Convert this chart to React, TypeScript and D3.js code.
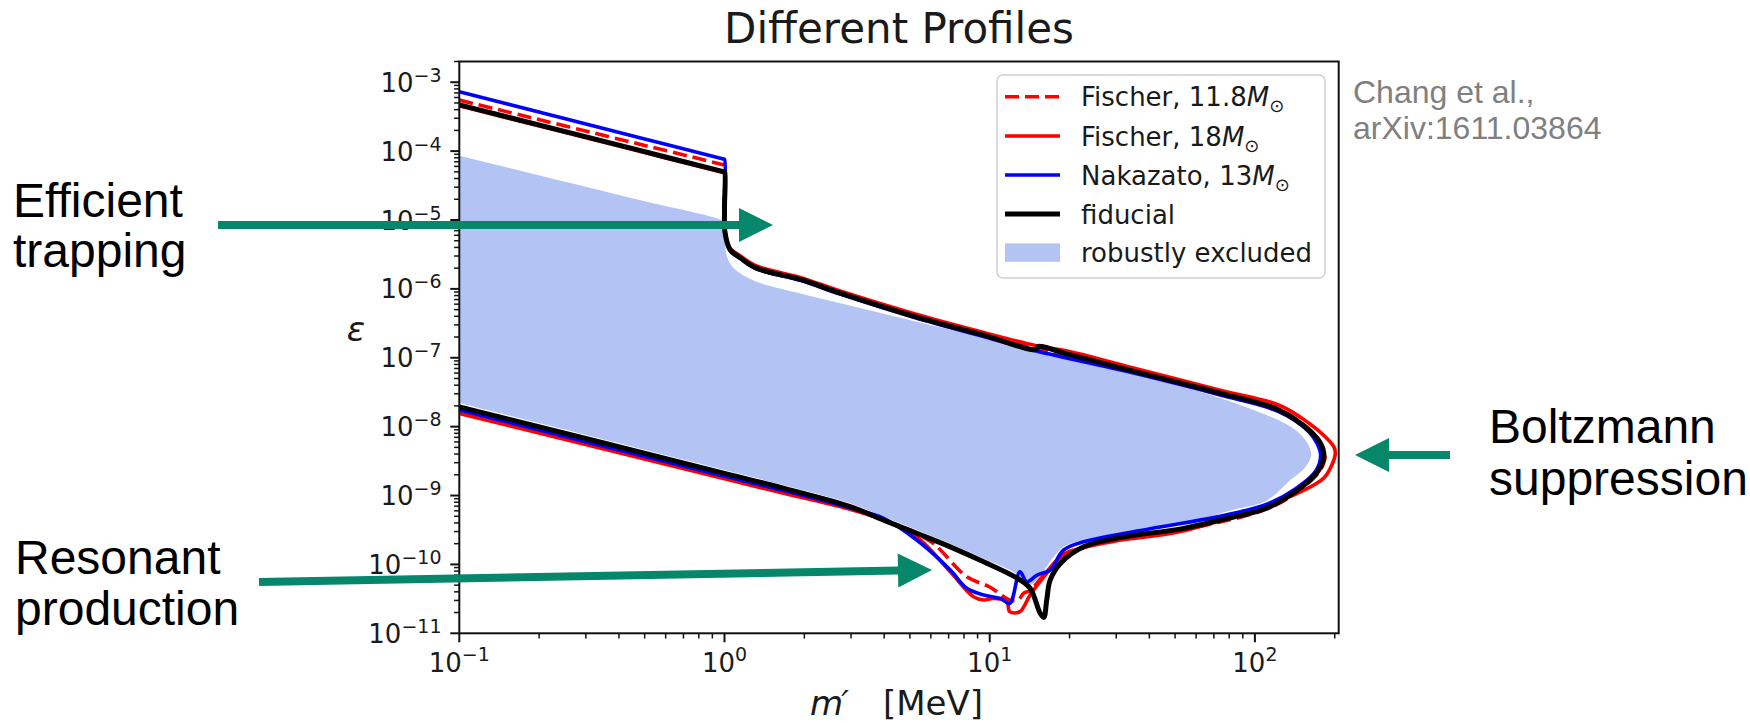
import React from 'react';
import * as d3 from 'd3';

const WIDTH = 1750;
const HEIGHT = 723;
const FRAME = { left: 459.3, right: 1338.7, top: 61.5, bottom: 633.3 };

const X_DOMAIN: [number, number] = [0.1, 207];
const Y_DOMAIN: [number, number] = [1e-11, 2e-3];

const X_MAJOR_EXPONENTS = [-1, 0, 1, 2];
const Y_MAJOR_EXPONENTS = [-11, -10, -9, -8, -7, -6, -5, -4, -3];

// Fiducial profile: upper branch, nose, then lower branch back to small m'
const fiducialM = [0.1, 0.5, 0.99, 1.0, 1.0, 1.005, 1.05, 1.15, 1.32, 1.93, 2.73, 5.2, 9.2, 15.0, 15.2, 20, 32.5, 74.6, 123, 160, 176, 182, 174, 145, 111, 72, 53.8, 30.2, 22.6, 18.5, 16.9, 16.4, 16.0, 15.5, 14.2, 12.7, 9.49, 7.1, 5.31, 3.98, 2.98, 1.64, 1.0, 0.1];
const fiducialEps = [4.7e-4, 9.81e-5, 5.05e-5, 5.0e-5, 1.5e-5, 6.5e-6, 3.7e-6, 2.8e-6, 2.0e-6, 1.37e-6, 8.7e-7, 4.0e-7, 2.2e-7, 1.32e-7, 1.46e-7, 1.11e-7, 6.85e-8, 3.04e-8, 1.75e-8, 8.9e-9, 5.9e-9, 3.8e-9, 2.34e-9, 1.2e-9, 6.6e-10, 4.3e-10, 3.34e-10, 2.4e-10, 1.8e-10, 1.04e-10, 5.9e-11, 3.0e-11, 1.7e-11, 1.95e-11, 4.5e-11, 6.3e-11, 1.09e-10, 1.8e-10, 2.83e-10, 4.4e-10, 6.9e-10, 1.3e-9, 2.1e-9, 1.94e-8];

// Nakazato, 13 M_sun
const nakazatoM = [0.1, 0.5, 0.99, 1.0, 1.0, 1.005, 1.05, 1.15, 1.32, 1.93, 2.73, 5.2, 9.2, 15.0, 32.5, 74.6, 123, 160, 172, 177, 170, 142, 111, 72, 40.3, 22.6, 19.0, 16.9, 15.1, 13.8, 13.0, 11.9, 10.97, 9.49, 8.2, 7.1, 5.31, 3.98, 2.98, 1.64, 1.0, 0.1];
const nakazatoEps = [7.3e-4, 1.505e-4, 7.675e-5, 7.6e-5, 1.5e-5, 6.5e-6, 3.6e-6, 2.75e-6, 1.95e-6, 1.33e-6, 8.4e-7, 3.85e-7, 2.1e-7, 1.25e-7, 6.4e-8, 2.85e-8, 1.65e-8, 8.4e-9, 5.6e-9, 3.8e-9, 2.3e-9, 1.25e-9, 7.5e-10, 4.9e-10, 3.3e-10, 2.13e-10, 1.62e-10, 8.3e-11, 7.0e-11, 5.6e-11, 7.8e-11, 2.72e-11, 3.2e-11, 3.6e-11, 4.5e-11, 8.3e-11, 2.26e-10, 4.67e-10, 6.6e-10, 1.2e-9, 1.9e-9, 1.75e-8];

// Fischer, 18 M_sun
const fischer18M = [0.1, 0.5, 0.99, 1.0, 1.0, 1.005, 1.05, 1.15, 1.32, 1.93, 2.73, 5.2, 9.2, 15.0, 20, 32.5, 74.6, 123, 160, 185, 199, 201, 196, 182, 150, 125, 93.3, 52.4, 30.2, 22.6, 19.0, 16.0, 14.2, 13.0, 11.9, 11.6, 10.3, 9.49, 8.69, 7.1, 5.31, 3.98, 2.98, 1.64, 1.0, 0.1];
const fischer18Eps = [4.55e-4, 9.51e-5, 4.9e-5, 4.85e-5, 1.5e-5, 6.8e-6, 3.9e-6, 3.0e-6, 2.15e-6, 1.47e-6, 9.3e-7, 4.35e-7, 2.4e-7, 1.5e-7, 1.23e-7, 7.6e-8, 3.35e-8, 2.06e-8, 1.12e-8, 7.0e-9, 5.0e-9, 4.1e-9, 2.9e-9, 1.8e-9, 1.15e-9, 8.6e-10, 5.8e-10, 3.0e-10, 2.2e-10, 1.75e-10, 1.37e-10, 6.6e-11, 3.6e-11, 2.06e-11, 2.06e-11, 2.9e-11, 3.2e-11, 3.04e-11, 3.4e-11, 7.8e-11, 2.5e-10, 4.4e-10, 6.3e-10, 1.1e-9, 1.75e-9, 1.56e-8];

// Fischer, 11.8 M_sun
const fischer118M = [0.1, 0.5, 0.99, 1.0, 1.0, 1.005, 1.05, 1.15, 1.32, 1.93, 2.73, 5.2, 9.2, 15.0, 32.5, 74.6, 123, 160, 176, 184, 176, 145, 111, 54, 30.2, 22.6, 19.0, 16.0, 14.2, 13.4, 12.8, 11.9, 10.0, 8.2, 6.14, 5.01, 3.98, 2.98, 1.64, 1.0, 0.1];
const fischer118Eps = [5.5e-4, 1.21e-4, 6.36e-5, 6.3e-5, 1.5e-5, 6.6e-6, 3.75e-6, 2.85e-6, 2.05e-6, 1.4e-6, 8.9e-7, 4.1e-7, 2.25e-7, 1.36e-7, 7.0e-8, 3.1e-8, 1.8e-8, 9.2e-9, 6.0e-9, 3.9e-9, 2.3e-9, 1.15e-9, 6.4e-10, 3.2e-10, 2.3e-10, 1.78e-10, 1.4e-10, 7.0e-11, 4.2e-11, 3.8e-11, 3.04e-11, 3.04e-11, 4.7e-11, 6.6e-11, 2.0e-10, 3.16e-10, 4.4e-10, 6.8e-10, 1.25e-9, 2.0e-9, 1.85e-8];

// Robustly excluded region (closed outline)
const excludedM = [0.1, 0.5, 0.97, 1.0, 1.005, 1.02, 1.06, 1.145, 1.32, 1.93, 2.73, 7.28, 27.5, 88, 145, 163, 155, 136, 111, 82.8, 53.8, 30.2, 19.5, 17.9, 16.4, 15.1, 13.8, 12.7, 9.49, 7.1, 5.31, 3.98, 2.98, 1.64, 1.0, 0.1];
const excludedEps = [8.55e-5, 1.87e-5, 1.0e-5, 9.0e-6, 4.5e-6, 3.0e-6, 2.2e-6, 1.68e-6, 1.27e-6, 8.6e-7, 6.2e-7, 2.5e-7, 7.4e-8, 2.06e-8, 8.4e-9, 4.1e-9, 2.6e-9, 1.68e-9, 8.5e-10, 6.2e-10, 3.9e-10, 2.7e-10, 1.91e-10, 1.45e-10, 9.3e-11, 5.9e-11, 5.0e-11, 7.2e-11, 1.22e-10, 2.0e-10, 3.15e-10, 4.9e-10, 7.7e-10, 1.45e-9, 2.35e-9, 2.2e-8];

const FILL_COLOR = '#b3c3f3';
const ARROW_COLOR = '#06876a';

type Series = {
  key: string;
  label: string;
  mass: string | null;
  color: string;
  width: number;
  dash?: string;
  m: number[];
  eps: number[];
};

const SERIES: Series[] = [
  { key: 'f118', label: 'Fischer, 11.8', mass: 'M', color: '#ff0000', width: 3.6, dash: '14,6', m: fischer118M, eps: fischer118Eps },
  { key: 'f18', label: 'Fischer, 18', mass: 'M', color: '#ff0000', width: 3.6, m: fischer18M, eps: fischer18Eps },
  { key: 'nak', label: 'Nakazato, 13', mass: 'M', color: '#0000ff', width: 3.6, m: nakazatoM, eps: nakazatoEps },
  { key: 'fid', label: 'fiducial', mass: null, color: '#000000', width: 5, m: fiducialM, eps: fiducialEps },
];

const zip = (ms: number[], es: number[]): [number, number][] => ms.map((m, i) => [m, es[i]]);

const isPowerOfTen = (v: number) => Math.abs(Math.log10(v) - Math.round(Math.log10(v))) < 1e-9;

function Arrow({ x1, y1, x2, y2 }: { x1: number; y1: number; x2: number; y2: number }) {
  const head = 34;
  const half = 17;
  const dx = x2 - x1;
  const dy = y2 - y1;
  const len = Math.hypot(dx, dy);
  const ux = dx / len;
  const uy = dy / len;
  const bx = x2 - ux * head;
  const by = y2 - uy * head;
  const pts = [
    [x2, y2],
    [bx - uy * half, by + ux * half],
    [bx + uy * half, by - ux * half],
  ];
  return (
    <g>
      <line x1={x1} y1={y1} x2={bx + ux * 1} y2={by + uy * 1} stroke={ARROW_COLOR} strokeWidth={8} />
      <polygon points={pts.map((p) => p.join(',')).join(' ')} fill={ARROW_COLOR} />
    </g>
  );
}

export default function App() {
  const x = d3.scaleLog().domain(X_DOMAIN).range([FRAME.left, FRAME.right]);
  const y = d3.scaleLog().domain(Y_DOMAIN).range([FRAME.bottom, FRAME.top]);

  const line = d3
    .line<[number, number]>()
    .x((d) => x(d[0]))
    .y((d) => y(d[1]))
    .curve(d3.curveCatmullRom.alpha(0.5));

  const excludedPath = line(zip(excludedM, excludedEps)) + 'Z';

  const xTicks = x.ticks().filter((v) => v >= X_DOMAIN[0] - 1e-12 && v <= X_DOMAIN[1]);
  const yTicks = y.ticks().filter((v) => v >= Y_DOMAIN[0] * 0.999 && v <= Y_DOMAIN[1] * 1.001);

  const tickFont = 'DejaVu Sans, Verdana, sans-serif';
  const annFont = 'Liberation Sans, Arial, sans-serif';

  const legendX = 997;
  const legendY = 75;
  const legendW = 328;
  const legendH = 203;
  const legendRows = [96.7, 136, 175, 214, 252.6];

  return (
    <svg
      width={WIDTH}
      height={HEIGHT}
      viewBox={`0 0 ${WIDTH} ${HEIGHT}`}
      style={{ position: 'absolute', left: 0, top: 0, background: '#ffffff' }}
    >
      <defs>
        <clipPath id="plot-clip">
          <rect x={FRAME.left} y={FRAME.top} width={FRAME.right - FRAME.left} height={FRAME.bottom - FRAME.top} />
        </clipPath>
      </defs>
      <rect x={0} y={0} width={WIDTH} height={HEIGHT} fill="#ffffff" />

      {/* title */}
      <text x={(FRAME.left + FRAME.right) / 2} y={43} textAnchor="middle" fontFamily={tickFont} fontSize={42} fill="#1a1a1a">
        Different Profiles
      </text>

      {/* data */}
      <g clipPath="url(#plot-clip)">
        <path d={excludedPath} fill={FILL_COLOR} stroke="none" />
        {SERIES.map((s) => (
          <path
            key={s.key}
            d={line(zip(s.m, s.eps)) || ''}
            fill="none"
            stroke={s.color}
            strokeWidth={s.width}
            strokeDasharray={s.dash}
            strokeLinejoin="round"
          />
        ))}
      </g>

      {/* frame */}
      <rect
        x={FRAME.left}
        y={FRAME.top}
        width={FRAME.right - FRAME.left}
        height={FRAME.bottom - FRAME.top}
        fill="none"
        stroke="#111"
        strokeWidth={2}
      />

      {/* x ticks */}
      {xTicks.map((v, i) => {
        const major = isPowerOfTen(v);
        const px = x(v);
        return (
          <line
            key={`xt${i}`}
            x1={px}
            x2={px}
            y1={FRAME.bottom}
            y2={FRAME.bottom + (major ? 9 : 5.2)}
            stroke="#111"
            strokeWidth={major ? 2 : 1.5}
          />
        );
      })}
      {X_MAJOR_EXPONENTS.map((e) => (
        <text key={`xl${e}`} x={x(Math.pow(10, e))} y={671.5} textAnchor="middle" fontFamily={tickFont} fontSize={26} fill="#1a1a1a">
          10
          <tspan dy={-10.5} fontSize={19}>
            {e < 0 ? `\u2212${-e}` : `${e}`}
          </tspan>
        </text>
      ))}

      {/* y ticks */}
      {yTicks.map((v, i) => {
        const major = isPowerOfTen(v);
        const py = y(v);
        return (
          <line
            key={`yt${i}`}
            x1={FRAME.left}
            x2={FRAME.left - (major ? 9 : 5.2)}
            y1={py}
            y2={py}
            stroke="#111"
            strokeWidth={major ? 2 : 1.5}
          />
        );
      })}
      {Y_MAJOR_EXPONENTS.map((e) => (
        <text key={`yl${e}`} x={441.5} y={y(Math.pow(10, e)) + 9.5} textAnchor="end" fontFamily={tickFont} fontSize={26} fill="#1a1a1a">
          10
          <tspan dy={-10} fontSize={19}>{`\u2212${-e}`}</tspan>
        </text>
      ))}

      {/* axis labels */}
      <text x={356} y={341} textAnchor="middle" fontFamily={tickFont} fontStyle="italic" fontSize={34} fill="#1a1a1a">
        ε
      </text>
      <text x={810} y={715} fontFamily={tickFont} fontStyle="italic" fontSize={34} fill="#1a1a1a">
        m<tspan dx={-2}>′</tspan>
      </text>
      <text x={883} y={715} fontFamily={tickFont} fontSize={34} fill="#1a1a1a">
        [MeV]
      </text>

      {/* legend */}
      <rect x={legendX} y={legendY} width={legendW} height={legendH} rx={6} ry={6} fill="#ffffff" fillOpacity={0.8} stroke="#d0d0d0" strokeWidth={1.5} />
      {SERIES.map((s, i) => (
        <g key={`lg${s.key}`}>
          <line x1={1005} x2={1060} y1={legendRows[i]} y2={legendRows[i]} stroke={s.color} strokeWidth={s.width} strokeDasharray={s.dash} />
          <text x={1081} y={legendRows[i] + 9.5} fontFamily={tickFont} fontSize={26} fill="#1a1a1a">
            {s.label}
            {s.mass && <tspan fontStyle="italic">{s.mass}</tspan>}
            {s.mass && (
              <tspan dy={6} fontSize={18}>
                ⊙
              </tspan>
            )}
          </text>
        </g>
      ))}
      <rect x={1005} y={legendRows[4] - 9.2} width={55} height={18.4} fill={FILL_COLOR} />
      <text x={1081} y={legendRows[4] + 9.5} fontFamily={tickFont} fontSize={26} fill="#1a1a1a">
        robustly excluded
      </text>

      {/* citation */}
      <text x={1353} y={103} fontFamily={annFont} fontSize={32} fill="#808080">
        Chang et al.,
      </text>
      <text x={1353} y={138.5} fontFamily={annFont} fontSize={32} fill="#808080">
        arXiv:1611.03864
      </text>

      {/* annotations */}
      <text fontFamily={annFont} fontSize={48} fill="#000">
        <tspan x={13} y={217}>Efficient</tspan>
        <tspan x={13} y={267}>trapping</tspan>
      </text>
      <Arrow x1={218} y1={225} x2={773} y2={225} />

      <text fontFamily={annFont} fontSize={48} fill="#000">
        <tspan x={15} y={574}>Resonant</tspan>
        <tspan x={15} y={625}>production</tspan>
      </text>
      <Arrow x1={259} y1={582} x2={932} y2={570} />

      <text fontFamily={annFont} fontSize={48} fill="#000">
        <tspan x={1489} y={443}>Boltzmann</tspan>
        <tspan x={1489} y={495}>suppression</tspan>
      </text>
      <Arrow x1={1450} y1={455} x2={1355} y2={455} />
    </svg>
  );
}
